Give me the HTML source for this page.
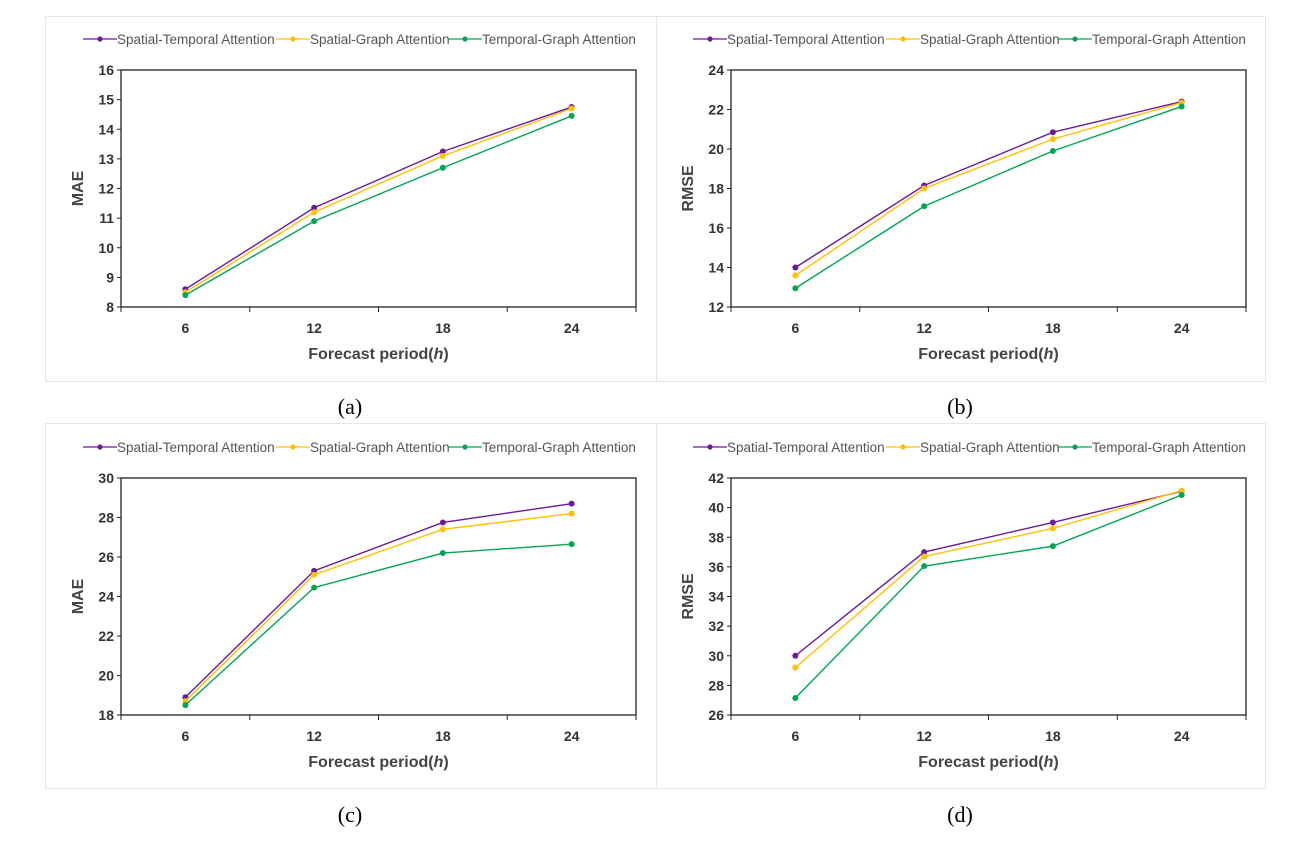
<!DOCTYPE html>
<html><head><meta charset="utf-8"><style>
body{margin:0;background:#fff;width:1315px;height:846px;overflow:hidden}
svg{display:block}
.leg{font:13.5px "Liberation Sans",sans-serif;fill:#555}
.tick{font:bold 14px "Liberation Sans",sans-serif;fill:#333}
.ttl{font:bold 16px "Liberation Sans",sans-serif;fill:#444}
.cap{font:22px "Liberation Serif",serif;fill:#000}
</style></head><body>
<svg id="fig" width="1315" height="846"></svg>
<script>
const categories=["6","12","18","24"];
const seriesNames=["Spatial-Temporal Attention","Spatial-Graph Attention","Temporal-Graph Attention"];
const aST=[8.6,11.35,13.25,14.75], aSG=[8.5,11.2,13.1,14.7], aTG=[8.4,10.9,12.7,14.45];
const bST=[14.0,18.15,20.85,22.4], bSG=[13.6,18.0,20.5,22.35], bTG=[12.95,17.1,19.9,22.15];
const cST=[18.9,25.3,27.75,28.7], cSG=[18.7,25.1,27.4,28.2], cTG=[18.5,24.45,26.2,26.65];
const dST=[30.0,37.0,39.0,41.1], dSG=[29.2,36.7,38.6,41.15], dTG=[27.15,36.05,37.4,40.85];
const aTicks=[8,9,10,11,12,13,14,15,16];
const bTicks=[12,14,16,18,20,22,24];
const cTicks=[18,20,22,24,26,28,30];
const dTicks=[26,28,30,32,34,36,38,40,42];
const colors=["#6a1b9a","#ffc000","#00a651"];
const NS="http://www.w3.org/2000/svg";
const svg=document.getElementById('fig');
function mk(tag,attrs,parent,text){const e=document.createElementNS(NS,tag);for(const k in attrs)e.setAttribute(k,attrs[k]);if(text!==undefined)e.textContent=text;(parent||svg).appendChild(e);return e;}
mk('rect',{x:45.5,y:16.5,width:1220,height:365,fill:'none',stroke:'#e6e6e6'});
mk('rect',{x:45.5,y:423.5,width:1220,height:365,fill:'none',stroke:'#e6e6e6'});
mk('line',{x1:656.5,y1:16,x2:656.5,y2:382,stroke:'#e6e6e6'});
mk('line',{x1:656.5,y1:423,x2:656.5,y2:789,stroke:'#e6e6e6'});
function panel(name,ox,oy,ticks,ytitle,series,cap){
  const g=mk('g',{});
  
  
  const L=ox+121,R=ox+636,T=oy+70,B=oy+307;
  const ymin=ticks[0],ymax=ticks[ticks.length-1];
  const yS=v=>B-(v-ymin)/(ymax-ymin)*(B-T);
  const step=(R-L)/categories.length;
  const xS=i=>L+step*(i+0.5);
  const lx=[ox+83,ox+276,ox+448];
  seriesNames.forEach((n,i)=>{
    const lg=mk('g',{},g);
    
    
    mk('line',{x1:lx[i],y1:oy+39,x2:lx[i]+34,y2:oy+39,stroke:colors[i],'stroke-width':1.3},lg);
    mk('circle',{cx:lx[i]+17,cy:oy+39,r:2.6,fill:colors[i]},lg);
    mk('text',{x:lx[i]+34,y:oy+44,class:'leg'},lg,n);
  });
  const ax=mk('g',{},g);
  
  
  mk('rect',{x:L,y:T,width:R-L,height:B-T,fill:'none',stroke:'#222','stroke-width':1.3},ax);
  ticks.forEach(t=>{
    mk('line',{x1:L-4,y1:yS(t),x2:L,y2:yS(t),stroke:'#222'},ax);
    const tx=mk('text',{x:L-7,y:yS(t)+5,'text-anchor':'end',class:'tick'},ax,String(t));
    
    
  });
  for(let i=0;i<=categories.length;i++){
    mk('line',{x1:L+step*i,y1:B,x2:L+step*i,y2:B+5,stroke:'#222'},ax);
  }
  categories.forEach((c,i)=>{
    const tx=mk('text',{x:xS(i),y:B+26,'text-anchor':'middle',class:'tick'},ax,c);
    
    
  });
  const xt=mk('text',{x:(L+R)/2,y:oy+359,'text-anchor':'middle',class:'ttl'},g);
  xt.innerHTML='Forecast period(<tspan font-style="italic">h</tspan>)';
  
  
  const yt=mk('text',{x:0,y:0,'text-anchor':'middle',class:'ttl',transform:`translate(${ox+83},${(T+B)/2}) rotate(-90)`},g,ytitle);
  
  
  series.forEach((s,k)=>{
    const pl=mk('polyline',{points:s.map((v,i)=>xS(i)+','+yS(v)).join(' '),fill:'none',stroke:colors[k],'stroke-width':1.4},g);
    
    
    s.forEach((v,i)=>{
      const c=mk('circle',{cx:xS(i),cy:yS(v),r:3,fill:colors[k]},g);
      
      
    });
  });
  const ct=mk('text',{x:ox+350,y:oy+414,'text-anchor':'middle',class:'cap'},g,cap);
  
  
}
panel('panel-a-mae',0,0,aTicks,'MAE',[aST,aSG,aTG],'(a)');
panel('panel-b-rmse',610,0,bTicks,'RMSE',[bST,bSG,bTG],'(b)');
panel('panel-c-mae',0,408,cTicks,'MAE',[cST,cSG,cTG],'(c)');
panel('panel-d-rmse',610,408,dTicks,'RMSE',[dST,dSG,dTG],'(d)');
</script>
</body></html>
